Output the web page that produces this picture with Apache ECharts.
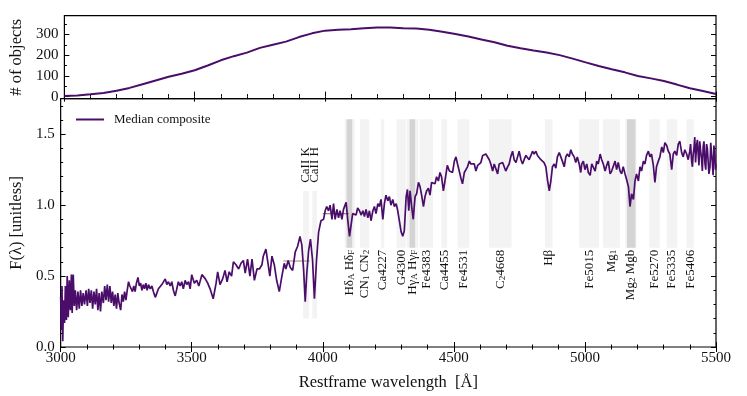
<!DOCTYPE html>
<html><head><meta charset="utf-8">
<script src="https://cdn.jsdelivr.net/npm/echarts@6/dist/echarts.min.js"></script>
<style>html,body{margin:0;padding:0;background:#fff}#c{width:747px;height:396px}</style>
</head><body><div id="c"></div>
<script>
// ---------------- data ----------------
const countWave = [3000,3050,3100,3150,3200,3250,3300,3350,3400,3450,3500,3550,3600,3650,3700,3750,3800,3850,3900,3950,4000,4050,4100,4150,4200,4250,4300,4350,4400,4450,4500,4550,4600,4650,4700,4750,4800,4850,4900,4950,5000,5050,5100,5150,5200,5250,5300,5350,5400,5450,5500];
const countVals = [3,6,11,18,28,42,60,78,96,110,127,150,175,195,212,235,250,265,287,305,318,322,325,330,333,333,330,328,322,313,302,290,275,262,245,233,222,213,200,183,165,148,132,117,99,88,75,58,40,27,13];
const countTicks = [0,100,200,300];
const countMinorTicks = [50,150,250,350];
const fluxTicks = [0,0.5,1.0,1.5];
const fluxMinorTicks = [0.1,0.2,0.3,0.4,0.6,0.7,0.8,0.9,1.1,1.2,1.3,1.4,1.6,1.7];

// median composite spectrum [wavelength, flux]
const spectrum = [
[3000,0.355],[3003,0.12],[3005,0.43],[3008,0.04],[3011,0.33],[3015,0.17],[3018,0.43],[3022,0.19],[3025,0.50],[3029,0.21],
[3033,0.47],[3037,0.26],[3041,0.51],[3044,0.24],[3048,0.51],[3052,0.29],[3056,0.40],[3061,0.26],[3066,0.39],[3071,0.27],
[3076,0.40],[3081,0.29],[3086,0.38],[3091,0.30],[3097,0.40],[3102,0.29],[3107,0.41],[3112,0.31],[3117,0.40],[3122,0.27],
[3127,0.39],[3132,0.30],[3137,0.41],[3142,0.26],[3147,0.38],[3152,0.25],[3157,0.39],[3163,0.31],[3168,0.43],[3173,0.33],
[3178,0.44],[3183,0.32],[3188,0.43],[3193,0.31],[3198,0.39],[3203,0.29],[3208,0.37],[3213,0.27],[3218,0.38],[3223,0.31],
[3229,0.26],[3234,0.37],[3239,0.32],[3244,0.39],[3249,0.33],[3254,0.40],[3259,0.46],[3264,0.43],[3269,0.44],[3274,0.39],
[3279,0.43],[3284,0.39],[3289,0.45],[3295,0.49],[3300,0.43],[3305,0.45],[3310,0.40],[3315,0.44],[3320,0.41],[3325,0.45],
[3330,0.40],[3335,0.44],[3342,0.41],[3348,0.43],[3354,0.39],[3361,0.35],[3367,0.38],[3373,0.41],[3380,0.40],[3386,0.44],
[3392,0.43],[3399,0.48],[3405,0.44],[3411,0.46],[3418,0.43],[3424,0.46],[3430,0.40],[3437,0.36],[3443,0.41],[3449,0.46],
[3456,0.43],[3462,0.46],[3468,0.41],[3475,0.47],[3481,0.44],[3488,0.46],[3494,0.41],[3500,0.51],
[3510,0.45],[3519,0.47],[3527,0.43],[3539,0.51],[3552,0.48],[3561,0.45],[3570,0.41],[3582,0.34],[3593,0.45],[3599,0.53],
[3608,0.44],[3618,0.48],[3627,0.54],[3635,0.46],[3643,0.53],[3652,0.50],[3659,0.60],[3669,0.58],[3679,0.55],[3688,0.59],
[3697,0.61],[3704,0.52],[3713,0.62],[3722,0.50],[3730,0.62],[3739,0.47],[3749,0.55],[3758,0.55],[3768,0.58],[3773,0.64],
[3783,0.69],[3791,0.59],[3798,0.50],[3806,0.64],[3815,0.58],[3824,0.47],[3834,0.39],[3844,0.50],[3853,0.59],[3859,0.55],
[3868,0.61],[3876,0.56],[3885,0.54],[3895,0.67],[3904,0.71],[3913,0.78],[3920,0.72],[3927,0.54],[3933,0.32],[3939,0.52],
[3946,0.68],[3953,0.76],[3961,0.61],[3968,0.34],[3976,0.61],[3984,0.81],[3993,0.89],
[4003,0.90],[4009,0.96],[4015,0.99],[4022,0.96],[4028,1.00],[4035,0.90],[4041,1.01],[4047,0.90],[4054,0.97],[4060,0.91],
[4066,0.96],[4073,0.90],[4079,0.97],[4089,1.02],[4095,0.90],[4102,0.78],[4108,0.86],[4114,0.94],[4121,0.95],[4127,0.93],
[4133,0.98],[4140,0.96],[4146,0.93],[4153,0.96],[4159,0.92],[4165,0.97],[4172,0.91],[4178,0.96],[4184,0.89],[4191,0.96],
[4197,0.99],[4203,0.94],[4210,1.01],[4216,0.99],[4222,1.04],[4229,0.90],[4235,1.01],[4241,1.07],[4248,1.03],[4254,1.06],
[4260,1.00],[4267,1.04],[4273,0.99],[4280,1.01],[4286,0.96],[4292,0.89],[4299,0.81],[4305,0.78],[4311,0.82],[4318,1.06],
[4323,1.11],[4328,0.96],[4333,1.10],[4339,0.99],[4345,0.90],[4352,1.06],[4358,1.08],[4365,1.16],[4371,1.13],[4377,1.07],
[4384,0.99],[4390,1.06],[4396,1.10],[4403,1.12],[4409,1.07],[4415,1.16],[4422,1.17],[4428,1.15],[4434,1.20],[4441,1.17],
[4447,1.23],[4453,1.20],[4460,1.10],[4466,1.17],[4475,1.28],[4483,1.24],
[4489,1.25],[4495,1.23],[4502,1.31],[4508,1.34],[4514,1.29],[4521,1.30],[4527,1.19],[4533,1.15],[4540,1.23],[4546,1.22],
[4552,1.27],[4559,1.31],[4565,1.29],[4572,1.30],[4578,1.29],[4584,1.24],[4591,1.28],[4597,1.27],[4603,1.30],[4610,1.35],
[4616,1.36],[4622,1.36],[4629,1.35],[4635,1.32],[4641,1.29],[4648,1.24],[4654,1.29],[4660,1.30],[4667,1.22],[4673,1.29],
[4679,1.28],[4686,1.30],[4692,1.29],[4698,1.24],[4705,1.27],[4711,1.29],[4717,1.34],[4724,1.38],[4730,1.32],[4737,1.30],
[4743,1.34],[4749,1.38],[4756,1.32],[4762,1.29],[4768,1.32],[4775,1.35],[4781,1.36],[4787,1.32],[4794,1.35],[4800,1.38],
[4806,1.36],[4813,1.38],[4819,1.35],[4825,1.35],[4832,1.32],[4838,1.31],[4844,1.30],[4851,1.27],[4857,1.18],[4864,1.10],
[4870,1.17],[4876,1.27],[4883,1.29],[4889,1.26],[4895,1.34],[4902,1.37],[4908,1.34],[4914,1.31],[4921,1.27],[4927,1.34],
[4933,1.36],[4940,1.34],[4946,1.39],[4952,1.36],[4959,1.34],[4965,1.30],[4971,1.34],[4978,1.29],[4984,1.23],
[4988,1.29],[4994,1.31],[5000,1.25],[5007,1.29],[5013,1.23],[5020,1.21],[5026,1.29],[5032,1.30],[5039,1.24],[5045,1.31],
[5051,1.29],[5058,1.36],[5064,1.32],[5070,1.29],[5077,1.24],[5083,1.28],[5089,1.31],[5096,1.22],[5102,1.24],[5108,1.23],
[5115,1.31],[5121,1.25],[5127,1.30],[5134,1.24],[5140,1.22],[5146,1.27],[5153,1.22],[5159,1.18],[5166,1.13],[5172,0.99],
[5178,1.08],[5185,1.04],[5191,1.17],[5197,1.22],[5204,1.17],[5210,1.27],[5216,1.24],[5223,1.31],[5229,1.29],[5235,1.35],
[5242,1.38],[5248,1.34],[5254,1.36],[5261,1.28],[5267,1.16],[5273,1.27],[5280,1.31],[5286,1.34],[5293,1.41],[5299,1.37],
[5305,1.44],[5312,1.42],[5318,1.38],[5324,1.36],[5331,1.25],[5337,1.36],[5343,1.38],[5350,1.35],[5356,1.43],[5362,1.45],
[5369,1.37],[5375,1.34],[5381,1.39],[5388,1.36],[5394,1.32],[5400,1.38],[5403,1.43],[5407,1.31],[5410,1.27],[5413,1.36],
[5416,1.40],[5419,1.48],[5422,1.30],[5426,1.42],[5429,1.46],[5432,1.36],[5435,1.28],[5438,1.45],[5441,1.39],[5445,1.32],
[5448,1.24],[5451,1.41],[5454,1.45],[5458,1.29],[5461,1.25],[5464,1.43],[5467,1.40],[5470,1.31],[5473,1.22],[5477,1.27],
[5480,1.44],[5483,1.36],[5486,1.30],[5489,1.21],[5492,1.42],[5496,1.34],[5498,1.25],[5500,1.29]
];

// Lick index passbands (Angstrom)
const bandLo   = [4083.5, 4091.0, 4142.125, 4222.25, 4281.375, 4319.75, 4331.25, 4369.125, 4452.125, 4514.25, 4634.0, 4847.875, 4977.75, 5069.125, 5154.125, 5160.125, 5245.65, 5312.125, 5387.5];
const bandHi   = [4122.25, 4112.25, 4177.125, 4234.75, 4316.375, 4363.5, 4352.25, 4420.375, 4474.625, 4559.25, 4720.25, 4876.625, 5054.0, 5134.125, 5196.625, 5192.625, 5285.65, 5352.125, 5415.0];
const bandNarrow = [0,1,0,0,0,0,1,0,0,0,0,0,0,0,0,1,0,0,0];
// Ca II H & K windows
const caLo = [3925, 3960];
const caHi = [3947, 3978];
const caLines = [3933.7, 3968.5];
const caTexts = ['CaII K', 'CaII H'];

// index labels
const labelWave = [4102.9, 4159.6, 4228.5, 4298.9, 4341.6, 4394.8, 4463.4, 4536.8, 4677.1, 4862.3, 5015.9, 5101.6, 5175.4, 5265.7, 5332.1, 5401.3];
const labelTexts = ['Hδ{s|A} Hδ{s|F}', 'CN{s|1} CN{s|2}', 'Ca4227', 'G4300', 'Hγ{s|A} Hγ{s|F}', 'Fe4383', 'Ca4455', 'Fe4531', 'C{s|2}4668', 'Hβ', 'Fe5015', 'Mg{s|1}', 'Mg{s|2} Mgb', 'Fe5270', 'Fe5335', 'Fe5406'];

// D4000n windows and continuum levels
const d4000Lo = [3850, 4000];
const d4000Hi = [3950, 4100];
const d4000Level = [0.606, 0.94];

// ---------------- chart ----------------
const FONT = '"Liberation Serif", "DejaVu Serif", serif';
const INK = '#111';
const PURPLE = '#4a0d6a';
const X0 = 3000, X1 = 5500;

const chart = echarts.init(document.getElementById('c'), null, {renderer: 'canvas'});

const grids = [
  {left: 60, right: 31, top: 15.7, height: 83, show: true, borderColor: '#000', borderWidth: 1.2, backgroundColor: 'transparent'},
  {left: 60, right: 31, top: 98.7, height: 248.6, show: true, borderColor: '#000', borderWidth: 1.2, backgroundColor: 'transparent'}
];

function xAx(grid, pos, withLabels) {
  const a = {
    type: 'value', gridIndex: grid, position: pos, min: X0, max: X1, interval: 500,
    axisLine: {show: false},
    axisTick: {show: true, inside: true, length: 5, lineStyle: {color: '#000', width: 1}},
    minorTick: {show: true, splitNumber: 5, length: 2.5, lineStyle: {color: '#000', width: 1}},
    splitLine: {show: false}, minorSplitLine: {show: false},
    axisLabel: {show: withLabels, fontFamily: FONT, fontSize: 15, color: INK, margin: 4, formatter: v => String(v)}
  };
  return a;
}
function yAx(grid, pos, min, max, ticks, major, labels, name) {
  const a = {
    type: 'value', gridIndex: grid, position: pos, min: min, max: max,
    axisLine: {show: false},
    axisTick: {show: true, inside: true, length: major ? 5 : 2.5, customValues: ticks, lineStyle: {color: '#000', width: 1}},
    splitLine: {show: false},
    axisLabel: {show: !!labels, customValues: ticks, fontFamily: FONT, fontSize: 15, color: INK, margin: 6,
      formatter: labels === 'flux' ? (v => v.toFixed(1)) : (v => String(v))}
  };
  if (name) {
    a.name = name; a.nameLocation = 'middle'; a.nameRotate = 90; a.nameGap = 33;
    a.nameTextStyle = {fontFamily: FONT, fontSize: 16.5, color: INK};
  }
  return a;
}

const xAxes = [
  xAx(0, 'bottom', false),
  xAx(0, 'top', false),
  Object.assign(xAx(1, 'bottom', true), {name: 'Restframe wavelength  [Å]', nameLocation: 'middle', nameGap: 27,
    nameTextStyle: {fontFamily: FONT, fontSize: 16.5, color: INK}}),
  xAx(1, 'top', false)
];
const yAxes = [
  yAx(0, 'left', -10, 390, countTicks, true, 'count', '# of objects'),
  yAx(0, 'left', -10, 390, countMinorTicks, false, null, null),
  yAx(0, 'right', -10, 390, countTicks, true, null, null),
  yAx(0, 'right', -10, 390, countMinorTicks, false, null, null),
  yAx(1, 'left', 0, 1.75, fluxTicks, true, 'flux', 'F(λ) [unitless]'),
  yAx(1, 'left', 0, 1.75, fluxMinorTicks, false, null, null),
  yAx(1, 'right', 0, 1.75, fluxTicks, true, null, null),
  yAx(1, 'right', 0, 1.75, fluxMinorTicks, false, null, null)
];

// band rectangles: [lo, hi, bottom, top, narrow]
const bandRows = [];
for (let i = 0; i < caLo.length; i++) bandRows.push([caLo[i], caHi[i], 0.20, 1.10, 0]);
for (let i = 0; i < bandLo.length; i++) bandRows.push([bandLo[i], bandHi[i], 0.70, 1.605, bandNarrow[i]]);

const richBase = {
  s: {fontFamily: FONT, fontSize: 9, verticalAlign: 'bottom', fill: INK}
};

const series = [
  {
    type: 'line', name: 'count', xAxisIndex: 0, yAxisIndex: 0, showSymbol: false, symbol: 'none',
    data: countWave.map((w, i) => [w, countVals[i]]), color: PURPLE,
    lineStyle: {color: PURPLE, width: 2}, z: 3, silent: true
  },
  {
    type: 'custom', name: 'bands', xAxisIndex: 2, yAxisIndex: 4, z: 1, silent: true,
    data: bandRows,
    renderItem: function (params, api) {
      const p0 = api.coord([api.value(0), api.value(3)]);
      const p1 = api.coord([api.value(1), api.value(2)]);
      return {type: 'rect', shape: {x: p0[0], y: p0[1], width: p1[0] - p0[0], height: p1[1] - p0[1]},
        style: {fill: api.value(4) ? '#d4d4d4' : '#f3f3f3'}};
    }
  },
  {
    type: 'line', name: 'd4000', xAxisIndex: 2, yAxisIndex: 4, showSymbol: false, symbol: 'none', z: 2, silent: true,
    data: [[d4000Lo[0], d4000Level[0]], [d4000Hi[0], d4000Level[0]], [null, null], [d4000Lo[1], d4000Level[1]], [d4000Hi[1], d4000Level[1]]],
    connectNulls: false,
    lineStyle: {color: '#8e6a5c', width: 1.2, opacity: 0.85}
  },
  {
    type: 'line', name: 'Median composite', xAxisIndex: 2, yAxisIndex: 4, showSymbol: false, symbol: 'none',
    data: spectrum, color: PURPLE, lineStyle: {color: PURPLE, width: 1.7}, z: 3, silent: true
  },
  {
    type: 'custom', name: 'labels', xAxisIndex: 2, yAxisIndex: 4, z: 4, silent: true,
    data: labelWave.map(w => [w, 0.685]),
    renderItem: function (params, api) {
      const p = api.coord([api.value(0), api.value(1)]);
      return {type: 'text', x: p[0], y: p[1], rotation: Math.PI / 2,
        style: {text: labelTexts[params.dataIndex], rich: richBase, fill: INK, fontFamily: FONT, fontSize: 13,
          align: 'right', verticalAlign: 'middle'}};
    }
  },
  {
    type: 'custom', name: 'calabels', xAxisIndex: 2, yAxisIndex: 4, z: 4, silent: true,
    data: caLines.map(w => [w, 1.157]),
    renderItem: function (params, api) {
      const p = api.coord([api.value(0), api.value(1)]);
      return {type: 'text', x: p[0], y: p[1], rotation: Math.PI / 2,
        style: {text: caTexts[params.dataIndex], fill: INK, fontFamily: FONT, fontSize: 13,
          align: 'left', verticalAlign: 'middle'}};
    }
  }
];

chart.setOption({
  animation: false,
  backgroundColor: '#fff',
  grid: grids,
  xAxis: xAxes,
  yAxis: yAxes,
  legend: {
    data: ['Median composite'], left: 71, top: 108, icon: 'rect', itemWidth: 28, itemHeight: 2,
    textStyle: {fontFamily: FONT, fontSize: 13, color: INK, padding: [0, 0, 0, 5]}
  },
  series: series
});
</script>
</body></html>
